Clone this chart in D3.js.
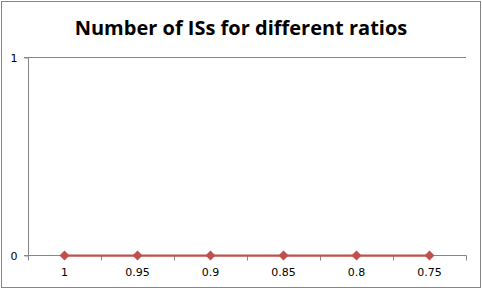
<!DOCTYPE html>
<html>
<head>
<meta charset="utf-8">
<script src="https://cdn.jsdelivr.net/npm/d3@7"></script>
<style>
  body { margin: 0; background: #fff; }
  svg text { font-family: "DejaVu Sans", Verdana, sans-serif; }
</style>
</head>
<body>
<svg id="chart" width="482" height="290"></svg>
<script>
// chart data
const ratios = ["1", "0.95", "0.9", "0.85", "0.8", "0.75"];
const counts = [0, 0, 0, 0, 0, 0];
const yTicks = [0, 1];

const svg = d3.select("#chart");
const margin = {left: 28, right: 15, top: 57, bottom: 35};
const W = 482, H = 290;

// outer frame
svg.append("rect")
    .attr("x", 1.5).attr("y", 1.5)
    .attr("width", W - 3).attr("height", H - 4)
    .attr("fill", "#fff")
    .attr("stroke", "#868686");

svg.append("text")
    .attr("x", 241).attr("y", 35)
    .attr("text-anchor", "middle")
    .style("font-family", "'Open Sans', sans-serif")
    .style("font-weight", "bold")
    .style("font-size", "20px")
    .text("Number of ISs for different ratios");

const x = d3.scaleBand()
    .domain(ratios)
    .range([margin.left, W - margin.right - 1]);

const y = d3.scaleLinear()
    .domain([0, 1])
    .range([H - margin.bottom, margin.top]);

// gridline at 1
svg.append("line")
    .attr("x1", margin.left - 4).attr("x2", x.range()[1])
    .attr("y1", y(1) + 0.5).attr("y2", y(1) + 0.5)
    .attr("stroke", "#868686");

// y axis
const yAxis = svg.append("g")
    .attr("transform", `translate(${margin.left + 0.5},0.5)`)
    .call(d3.axisLeft(y).tickValues(yTicks).tickFormat(d3.format("d")).tickSize(4).tickPadding(7));
yAxis.selectAll("path, line").attr("stroke", "#868686");
yAxis.select(".domain").attr("d", `M0,${y(1)}V${y(0)}`);
yAxis.selectAll("text").style("font-size", "11px").attr("fill", "#000");

// x axis with ticks between categories
const xAxis = svg.append("g")
    .attr("transform", `translate(0,${y(0) + 0.5})`);
xAxis.append("line")
    .attr("x1", margin.left - 4).attr("x2", x.range()[1] + 0.5)
    .attr("stroke", "#868686");
const bounds = ratios.map(r => x(r)).concat([x.range()[1]]);
xAxis.selectAll("line.tick")
    .data(bounds)
    .join("line")
    .attr("class", "tick")
    .attr("x1", d => Math.round(d) + 0.5).attr("x2", d => Math.round(d) + 0.5)
    .attr("y1", 0).attr("y2", 5)
    .attr("stroke", "#868686");
xAxis.selectAll("text")
    .data(ratios)
    .join("text")
    .attr("x", d => x(d) + x.bandwidth() / 2)
    .attr("y", 20)
    .attr("text-anchor", "middle")
    .style("font-size", "11px")
    .text(d => d);

// series
const cx = (d, i) => x(ratios[i]) + x.bandwidth() / 2;
svg.append("path")
    .datum(counts)
    .attr("fill", "none")
    .attr("stroke", "#C0504D")
    .attr("stroke-width", 2.25)
    .attr("d", d3.line().x(cx).y(d => y(d) + 0.5));

svg.selectAll("path.marker")
    .data(counts)
    .join("path")
    .attr("class", "marker")
    .attr("transform", (d, i) => `translate(${cx(d, i)},${y(d) + 0.5})`)
    .attr("d", "M0,-5L5,0L0,5L-5,0Z")
    .attr("fill", "#C0504D");
</script>
</body>
</html>
